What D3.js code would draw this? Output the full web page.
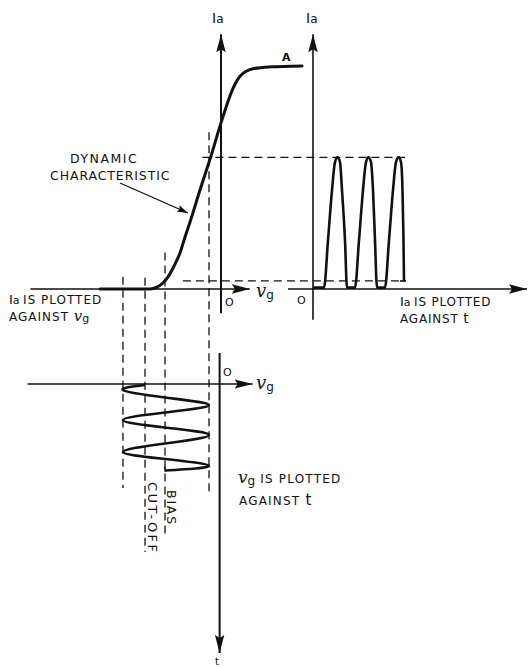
<!DOCTYPE html>
<html><head><meta charset="utf-8">
<script src="https://cdn.jsdelivr.net/npm/d3@7"></script>
<style>
body{margin:0;background:#fff}
svg{display:block;background:#fff}
text{font-family:"DejaVu Sans",sans-serif;fill:#111}
</style>
</head><body>
<svg id="c" width="529" height="667"></svg>
<script>
// ---------- data ----------
// dynamic characteristic: anode current Ia vs grid voltage vg
const charVg = [-13.0, -7.63, -6.88, -6.24, -5.70, -5.05, -4.41, -3.87, -3.33, -2.26, -1.11, 0, 1.29, 2.04, 3.44, 5.27, 8.71];
const charIa = [0, 0, 0.21, 0.64, 1.29, 2.46, 3.86, 5.57, 7.18, 10.6, 14.14, 17.8, 21.5, 22.8, 23.6, 23.8, 23.9];

// anode current pulses vs time
const pulseT  = [0, 11, 15, 19, 22, 24.5, 27, 29, 32, 34, 42, 46, 50, 53, 55.5, 58, 60, 62, 64, 72, 76, 80, 83, 85.5, 88, 89.5, 90.5, 91];
const pulseIa = [0.15, 0.15, 5.2, 10.6, 13.6, 14.1, 13.6, 10.6, 5.2, 0.15, 0.15, 5.2, 10.6, 13.6, 14.1, 13.6, 10.6, 5.2, 0.15, 0.15, 5.2, 10.6, 13.6, 14.1, 13.6, 10.6, 5.2, 0.86];

// grid voltage vs time (drawn downwards)
const waveT  = [1, 6, 13.5, 21, 28.5, 36, 43.5, 51, 59.5, 68, 75, 82, 86.5];
const waveVg = [-8.17, -10.54, -6.02, -1.29, -6.02, -10.54, -6.02, -1.29, -6.02, -10.54, -6.02, -1.29, -6.02];

// key levels
const cutoffVg = -8.17, biasVg = -6.02, vgLow = -10.54, vgHigh = -1.29;
const iaPeak = 14.1, iaBias = 0.86;

// ---------- scales ----------
const svg = d3.select("#c");
const xVg = d3.scaleLinear().domain([-20, 0]).range([35, 221]);
const yIa = d3.scaleLinear().domain([0, 24]).range([289, 65]);
const xT  = d3.scaleLinear().domain([0, 100]).range([313, 413]);
const yT  = d3.scaleLinear().domain([0, 100]).range([384, 484]);

// ---------- markers ----------
const defs = svg.append("defs");
defs.append("marker").attr("id","arr").attr("markerUnits","userSpaceOnUse")
  .attr("markerWidth",18).attr("markerHeight",10).attr("refX",18).attr("refY",5).attr("orient","auto")
  .append("path").attr("d","M0,0.3 L18,5 L0,9.7 L3,5 Z").attr("fill","#111");
defs.append("marker").attr("id","arrs").attr("markerUnits","userSpaceOnUse")
  .attr("markerWidth",11).attr("markerHeight",8).attr("refX",11).attr("refY",4).attr("orient","auto")
  .append("path").attr("d","M0,0.5 L11,4 L0,7.5 L2,4 Z").attr("fill","#111");

const g = svg.append("g");
function line(x1,y1,x2,y2){
  return g.append("line").attr("x1",x1).attr("y1",y1).attr("x2",x2).attr("y2",y2)
    .attr("stroke","#111").attr("stroke-width",1.6);
}
function dashed(x1,y1,x2,y2){
  return g.append("line").attr("x1",x1).attr("y1",y1).attr("x2",x2).attr("y2",y2)
    .attr("stroke","#111").attr("stroke-width",1.3).attr("stroke-dasharray","8,5");
}

// ---------- dashed guide lines ----------
dashed(xVg(vgLow), yIa(1.3), xVg(vgLow), yT(104));
dashed(xVg(cutoffVg), yIa(1.2), xVg(cutoffVg), yT(168));
dashed(xVg(biasVg), yIa(3.9), xVg(biasVg), yT(153));
dashed(xVg(vgHigh), yIa(16.8), xVg(vgHigh), yT(108));
dashed(xVg(-2.0), yIa(iaPeak), xT(92), yIa(iaPeak));
dashed(xVg(-4.1), yIa(iaBias), xT(92), yIa(iaBias));

// ---------- axes ----------
line(xVg(-20.5), yIa(0), xVg(3.1), yIa(0)).attr("marker-end","url(#arr)");
line(xVg(0), yIa(-2.6), xVg(0), yIa(27.3)).attr("stroke-width",2).attr("marker-end","url(#arr)");
line(xT(0), yIa(-3.3), xT(0), yIa(27.3)).attr("marker-end","url(#arr)");
line(xT(-25), yIa(0), xT(214), yIa(0)).attr("marker-end","url(#arr)");
line(xVg(-20.8), yT(0), xVg(3.4), yT(0)).attr("marker-end","url(#arr)");
line(xVg(-0.15), yT(-31), xVg(-0.15), yT(269)).attr("stroke-width",2).attr("marker-end","url(#arr)");

// ---------- curves ----------
const charLine = d3.line().x(d=>xVg(d[0])).y(d=>yIa(d[1])).curve(d3.curveMonotoneX);
g.append("path").attr("d", charLine(d3.zip(charVg, charIa)))
  .attr("fill","none").attr("stroke","#111").attr("stroke-width",3).attr("stroke-linecap","round");

const pulseLine = d3.line().x(d=>xT(d[0])).y(d=>yIa(d[1])).curve(d3.curveMonotoneX);
g.append("path").attr("d", pulseLine(d3.zip(pulseT, pulseIa)))
  .attr("fill","none").attr("stroke","#111").attr("stroke-width",2.6).attr("stroke-linejoin","round");
line(xT(87), yIa(iaBias), xT(93), yIa(iaBias)).attr("stroke-width",1.6);

const waveLine = d3.line().x(d=>xVg(d[1])).y(d=>yT(d[0])).curve(d3.curveNatural);
g.append("path").attr("d", waveLine(d3.zip(waveT, waveVg)))
  .attr("fill","none").attr("stroke","#111").attr("stroke-width",2.6).attr("stroke-linejoin","round");
line(xVg(biasVg), yT(82.5), xVg(biasVg), yT(87.5)).attr("stroke-width",1.6);

// pointer arrow
line(120, 183, 188, 213).attr("stroke-width",1.3).attr("marker-end","url(#arrs)");

// ---------- text ----------
function label(x,y,parts,size){
  const t = g.append("text").attr("x",x).attr("y",y).attr("font-size",size||12);
  parts.forEach(p=>{
    const s = t.append("tspan").text(p.t);
    if(p.ital){ s.attr("font-family","DejaVu Serif").attr("font-style","italic").attr("font-size",p.size||17); }
    if(p.size && !p.ital) s.attr("font-size",p.size);
    if(p.dy) s.attr("dy",p.dy);
    if(p.ls!==undefined) s.attr("letter-spacing",p.ls);
  });
  return t;
}
const IA = [{t:"I",size:14},{t:"a",size:12}];
label(212, 23, IA);
label(306, 23, IA);
label(282, 61, [{t:"A"}], 11).attr("font-weight","bold");
label(70, 163, [{t:"DYNAMIC"}], 12.5).attr("letter-spacing","1.5");
label(50, 180, [{t:"CHARACTERISTIC"}], 12.5).attr("letter-spacing","0.9");

label(9, 304, [{t:"I",size:13},{t:"a  ",size:11},{t:"IS PLOTTED",ls:1}], 12);
label(9, 321, [{t:"AGAINST  ",ls:1},{t:"v",ital:true,size:15},{t:"g",size:11,dy:1}], 12);
label(225, 306, [{t:"O"}], 11);
label(256, 297, [{t:"v",ital:true,size:18},{t:"g",size:12,dy:2}], 12);
label(297, 304, [{t:"O"}], 11);
label(400, 306, [{t:"I",size:13},{t:"a  ",size:11},{t:"IS PLOTTED",ls:0.8}], 12);
label(400, 323, [{t:"AGAINST   ",ls:0.8},{t:"t",size:14}], 12);

label(223, 376, [{t:"O"}], 11);
label(256, 389, [{t:"v",ital:true,size:18},{t:"g",size:12,dy:2}], 12);
label(238, 483, [{t:"v",ital:true,size:17},{t:"g",size:12,dy:2},{t:"  IS  PLOTTED",dy:-2,ls:1.2}], 12);
label(239, 505, [{t:"AGAINST   ",ls:1.2},{t:"t",size:15}], 12);
label(215, 665, [{t:"t"}], 10);

g.append("text").attr("transform","translate(148,482) rotate(90)").attr("font-size",13).attr("letter-spacing","2.4").text("CUT-OFF");
g.append("text").attr("transform","translate(167,490) rotate(90)").attr("font-size",12.5).attr("letter-spacing","1.8").text("BIAS");
</script>
</body></html>
